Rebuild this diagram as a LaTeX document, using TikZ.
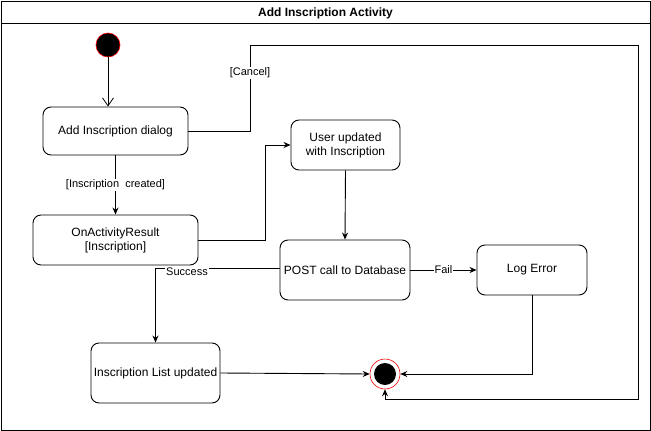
\documentclass[tikz,border=0pt]{standalone}
\usepackage{fontspec}
\setmainfont{Liberation Sans}
\usetikzlibrary{arrows.meta}
\begin{document}
\begin{tikzpicture}[x=1pt,y=-1pt,
  box/.style={draw, rounded corners=8pt, align=center, inner sep=1pt, font=\fontsize{12}{14}\selectfont, fill=white},
  arr/.style={draw, line width=0.9pt, -{Stealth[length=7pt,width=6pt]}},
  lbl/.style={fill=white, inner sep=1pt, font=\fontsize{11}{12}\selectfont},
  every path/.style={line width=0.9pt}]
\useasboundingbox (0,0) rectangle (651,431);
% frame
\draw[line width=1pt] (1,1) rectangle (650,430);
\draw[line width=1pt] (1,23) -- (650,23);
\node[font=\bfseries\fontsize{12}{13}\selectfont] (title) at (325.5,13) {Add Inscription Activity};
% nodes
\node[circle, draw=red, fill=black, minimum size=24pt, inner sep=0pt, line width=0.6pt] (init) at (108,45) {};
\node[box, minimum width=145pt, minimum height=48pt] (dialog) at (115.5,131) {Add Inscription dialog};
\node[box, minimum width=165pt, minimum height=50pt] (result) at (115.5,240) {OnActivityResult\\{}[Inscription]};
\node[box, minimum width=109pt, minimum height=50pt] (user) at (345.5,145) {User updated\\with Inscription};
\node[box, minimum width=130pt, minimum height=60pt] (post) at (345,270) {POST call to Database};
\node[box, minimum width=110pt, minimum height=50pt] (log) at (532,270) {Log Error};
\node[box, minimum width=129pt, minimum height=60pt] (list) at (155.5,373) {Inscription List updated};
\node[circle, draw=red, fill=white, minimum size=30pt, inner sep=0pt, line width=0.6pt] (final) at (385,374) {};
\fill[black] (final.center) circle (11pt);
% edges
\draw[line width=0.8pt, -{Straight Barb[length=8pt,width=11pt]}] (init) -- (init |- dialog.north);
\draw[arr] (dialog.east) -| (250,45) -| (638,399) -| (final.south);
\node[lbl] (lcancel) at (250,73) {[Cancel]};
\draw[arr] (dialog.south) -- (result.north) node[lbl, pos=0.5] (lcreated) {[Inscription\ \ created]};
\draw[arr] (result.east) -| (265,145) -- (user.west);
\draw[arr] (user.south) -- (post.north);
\draw[arr] (post.east) -- (log.west) node[lbl, midway] (lfail) {Fail};
\draw[arr] ([yshift=2pt]post.west) -| (list.north);
\node[lbl] (lsuccess) at (187,272) {Success};
\draw[arr] (log.south) |- (final.east);
\draw[arr] (list.east) -- (final.west);
\end{tikzpicture}
\end{document}
